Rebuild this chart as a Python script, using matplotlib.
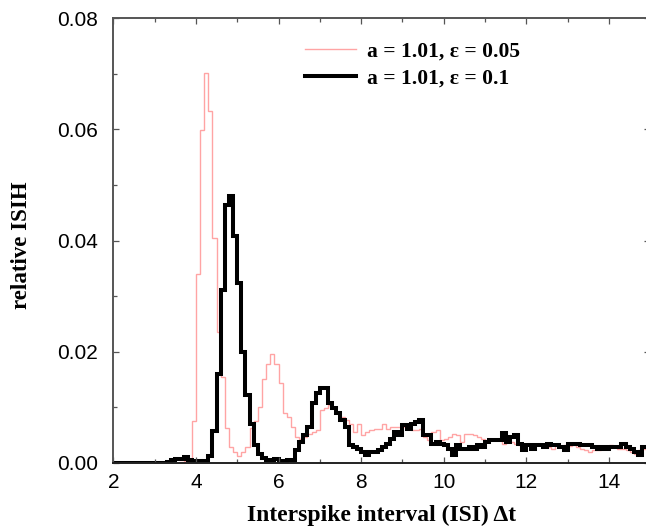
import numpy as np
import matplotlib
matplotlib.use("Agg")
import matplotlib.pyplot as plt
from matplotlib.lines import Line2D
from matplotlib.ticker import MultipleLocator, FormatStrFormatter

# histogram bins: 0.1 wide, starting at t = 2.0
BIN_START = 2.0
BIN_WIDTH = 0.1

# relative ISIH, a = 1.01, eps = 0.05 (one value per bin, from t = 2.0)
isih_eps005 = [
    0, 0, 0, 0, 0, 0, 0, 0, 0, 0,                                            # 2.0 - 2.9
    0, 0, 0, 0, 0, 0, 0.0002, 0.0003, 0.0003, 0.0076,                        # 3.0 - 3.9
    0.034, 0.0599, 0.0702, 0.0633, 0.0405, 0.0236, 0.0155, 0.0063, 0.0029, 0.0019,  # 4.0 - 4.9
    0.0013, 0.0019, 0.0029, 0.0063, 0.0075, 0.0101, 0.0151, 0.0178, 0.0196, 0.0178,  # 5.0 - 5.9
    0.0144, 0.0089, 0.0083, 0.0065, 0.0047, 0.0043, 0.0047, 0.0053, 0.0056, 0.0059,  # 6.0 - 6.9
    0.0095, 0.0098, 0.0104, 0.0098, 0.0089, 0.0083, 0.0077, 0.0071, 0.0056, 0.0071,  # 7.0 - 7.9
    0.005, 0.0056, 0.0059, 0.0062, 0.0062, 0.0071, 0.0062, 0.0065, 0.0065, 0.0065,   # 8.0 - 8.9
    0.0065, 0.0065, 0.0059, 0.0059, 0.0062, 0.0047, 0.0041, 0.0056, 0.0059, 0.0041,  # 9.0 - 9.9
    0.0043, 0.0047, 0.0052, 0.005, 0.0038, 0.0053, 0.0052, 0.005, 0.0047, 0.0044,    # 10.0 - 10.9
    0.0038, 0.0041, 0.0044, 0.0041, 0.0035, 0.0043, 0.0038, 0.0035, 0.0032, 0.0032,  # 11.0 - 11.9
    0.0034, 0.0035, 0.0034, 0.0035, 0.0034, 0.0029, 0.0026, 0.0032, 0.0031, 0.0032,  # 12.0 - 12.9
    0.0031, 0.0032, 0.0029, 0.0026, 0.0023, 0.002, 0.0023, 0.0023, 0.0026, 0.0029,   # 13.0 - 13.9
    0.0032, 0.0029, 0.0026, 0.0026, 0.0023, 0.002, 0.0017, 0.0023, 0.0026, 0.0026,   # 14.0 - 14.9
]

# relative ISIH, a = 1.01, eps = 0.1
isih_eps01 = [
    0, 0, 0, 0, 0, 0, 0, 0, 0, 0,                                            # 2.0 - 2.9
    0, 0, 0, 0.0002, 0.0005, 0.0007, 0.0007, 0.0011, 0.0005, 0.0003,         # 3.0 - 3.9
    0.0003, 0.0002, 0.0004, 0.0013, 0.0058, 0.016, 0.0311, 0.0464, 0.048, 0.0408,  # 4.0 - 4.9
    0.0323, 0.02, 0.0122, 0.007, 0.0032, 0.0016, 0.0009, 0.0006, 0.0005, 0.0007,  # 5.0 - 5.9
    0.0003, 0.0003, 0.0005, 0.0005, 0.0023, 0.0037, 0.005, 0.0065, 0.0107, 0.0125,  # 6.0 - 6.9
    0.0134, 0.0134, 0.0107, 0.0098, 0.0089, 0.0077, 0.0065, 0.0032, 0.0029, 0.0026,  # 7.0 - 7.9
    0.002, 0.0014, 0.002, 0.002, 0.0023, 0.0029, 0.0035, 0.0044, 0.0056, 0.005,     # 8.0 - 8.9
    0.0068, 0.0062, 0.0071, 0.0074, 0.0077, 0.005, 0.005, 0.0035, 0.0038, 0.0034,   # 9.0 - 9.9
    0.0032, 0.0026, 0.0014, 0.0032, 0.0026, 0.0026, 0.0029, 0.0026, 0.0032, 0.0029,  # 10.0 - 10.9
    0.0038, 0.0042, 0.0042, 0.0042, 0.0054, 0.0037, 0.0047, 0.005, 0.0035, 0.0023,  # 11.0 - 11.9
    0.0032, 0.0026, 0.0032, 0.0032, 0.0029, 0.0035, 0.0033, 0.0032, 0.0029, 0.0023,  # 12.0 - 12.9
    0.0035, 0.0034, 0.0035, 0.0032, 0.0033, 0.0032, 0.0029, 0.0026, 0.0029, 0.0026,  # 13.0 - 13.9
    0.0029, 0.0029, 0.0029, 0.0035, 0.0029, 0.0026, 0.002, 0.0014, 0.0029, 0.0029,  # 14.0 - 14.9
]

labels = ["a = 1.01, \u03b5 = 0.05", "a = 1.01, \u03b5 = 0.1"]

SERIF = ["Liberation Serif", "DejaVu Serif"]
SANS = ["Liberation Sans", "DejaVu Sans"]
RED = "#ffa4a4"
SPINE = "#555555"

edges = BIN_START + BIN_WIDTH * np.arange(len(isih_eps01) + 1)

fig = plt.figure(figsize=(6.46, 5.31), dpi=100)
ax = fig.add_axes([113.3 / 646, 68 / 531, 537 / 646, 445 / 531])

red = ax.stairs(isih_eps005, edges, baseline=0, fill=False,
                edgecolor=RED, linewidth=1.0)
black = ax.stairs(isih_eps01, edges, baseline=0, fill=False,
                  edgecolor="black", linewidth=2.9)
black.set_joinstyle("miter")
red.set_joinstyle("miter")

ax.set_xlim(2, 15)
ax.set_ylim(0, 0.08)
ax.xaxis.set_major_locator(MultipleLocator(2))
ax.xaxis.set_minor_locator(MultipleLocator(1))
ax.yaxis.set_major_locator(MultipleLocator(0.02))
ax.yaxis.set_minor_locator(MultipleLocator(0.01))
ax.yaxis.set_major_formatter(FormatStrFormatter("%.2f"))

ax.tick_params(which="both", direction="in", top=True, right=True,
               color=SPINE, width=0.9)
ax.tick_params(which="major", length=4)
ax.tick_params(which="minor", length=3)
ax.tick_params(axis="x", which="major", pad=7, labelsize=15)
ax.tick_params(axis="y", which="major", pad=11, labelsize=15)
for t in ax.get_xticklabels() + ax.get_yticklabels():
    t.set_fontfamily(SANS)

for s in ax.spines.values():
    s.set_color(SPINE)
    s.set_linewidth(1.4)
ax.spines["bottom"].set_color("#222222")

ax.set_xlabel("Interspike interval (ISI) \u0394t", fontfamily=SERIF,
              fontweight="bold", fontsize=17)
ax.set_ylabel("relative ISIH", fontfamily=SERIF, fontweight="bold",
              fontsize=16.5)
ax.xaxis.set_label_coords(0.5, -0.095)
ax.yaxis.set_label_coords(-0.152, 0.49)

handles = [Line2D([], [], color=RED, linewidth=1.0),
           Line2D([], [], color="black", linewidth=2.9)]
ax.legend(handles, labels, loc="upper left", bbox_to_anchor=(0.357, 0.947),
          frameon=False, borderpad=0, borderaxespad=0, handlelength=2.35,
          handletextpad=0.55, labelspacing=0.3,
          prop={"family": SERIF, "weight": "bold", "size": 15.5})

fig.savefig("out.png", dpi=100)
